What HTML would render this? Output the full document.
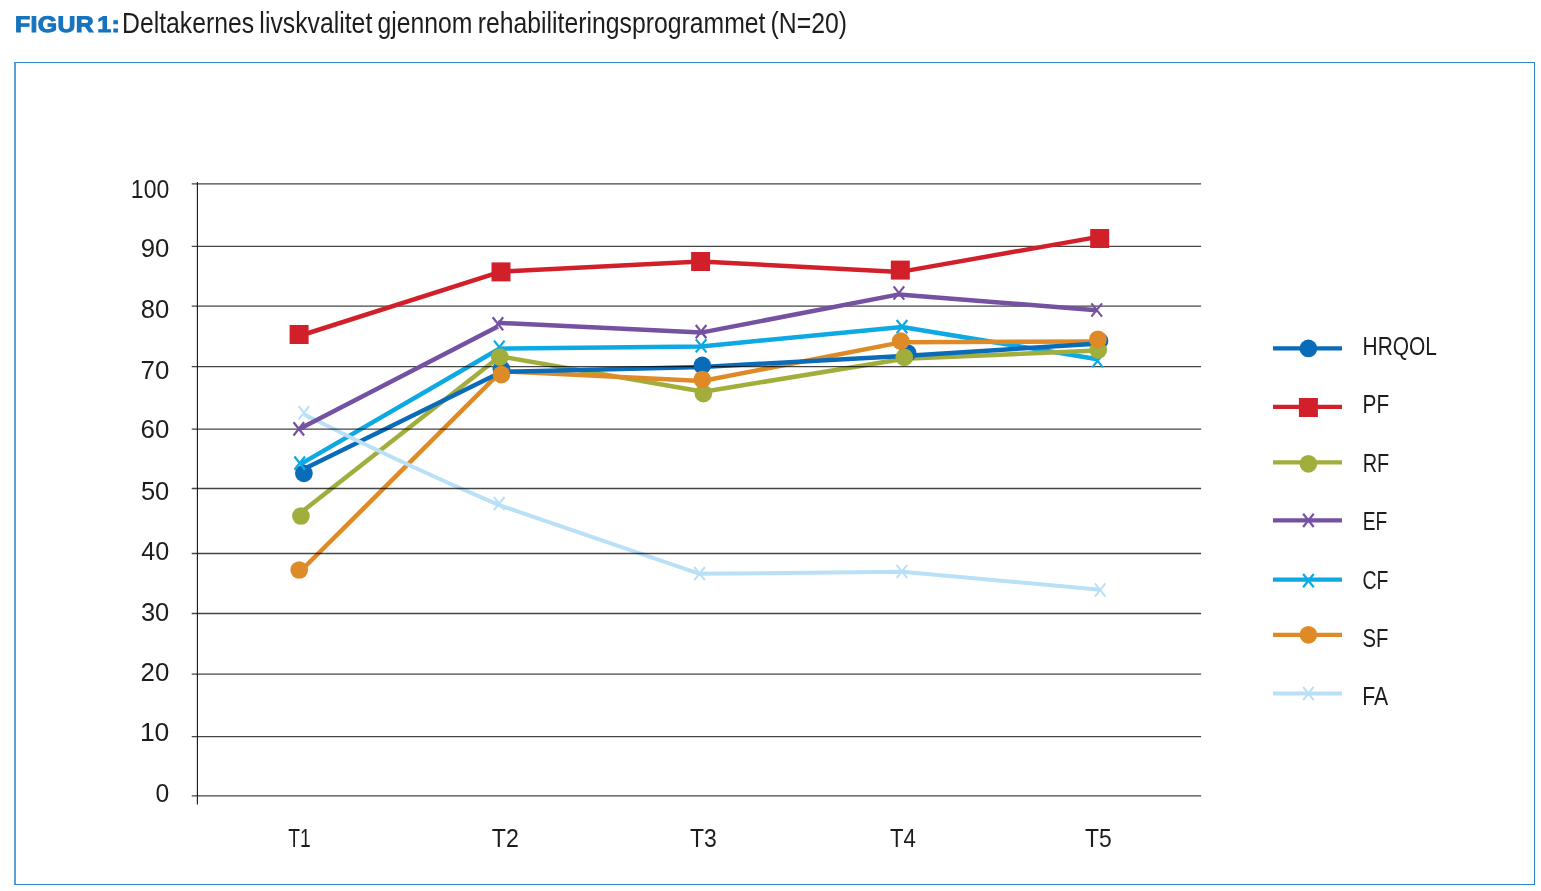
<!DOCTYPE html>
<html lang="no">
<head>
<meta charset="utf-8">
<title>Figur 1: Deltakernes livskvalitet gjennom rehabiliteringsprogrammet (N=20)</title>
<style>
html,body{margin:0;padding:0;background:#fff;}
body{width:1541px;height:891px;position:relative;overflow:hidden;font-family:"Liberation Sans",sans-serif;}
figure{margin:0;padding:0;}
figcaption{position:absolute;left:0;top:0;width:1541px;height:60px;white-space:nowrap;}
figcaption .lab{position:absolute;left:14.9px;top:9.4px;font-weight:bold;font-size:22.5px;text-rendering:geometricPrecision;line-height:32px;color:#1674be;
  display:inline-block;transform-origin:0 0;transform:scaleX(1.105);-webkit-text-stroke:1px #1674be;letter-spacing:0.3px;word-spacing:-3.5px;}
figcaption .ttl{position:absolute;left:122.4px;top:4.9px;font-size:28.8px;line-height:36px;color:#1d1d1b;
  display:inline-block;transform-origin:0 0;transform:scaleX(0.8604);word-spacing:-2px;}
.chart{position:absolute;left:0;top:0;width:1541px;height:891px;}
.frame{position:absolute;left:14px;top:62px;width:1521px;height:823px;box-sizing:border-box;border:1.5px solid #2f86c9;border-left:2px solid #5a9fd8;}
.chart svg{display:block;position:absolute;left:0;top:0;}
svg text{font-family:"Liberation Sans",sans-serif;fill:#1d1d1b;text-rendering:auto;}
</style>
</head>
<body>
<figure>
<figcaption><span class="lab">FIGUR 1:</span><span class="ttl">Deltakernes livskvalitet gjennom rehabiliteringsprogrammet (N=20)</span></figcaption>
<div class="chart">
<div class="frame"></div>
<svg width="1541" height="891" viewBox="0 0 1541 891">
<g fill="none" stroke-linejoin="round" stroke-linecap="butt">
<path d="M299.7 464.6L499.3 348.7L701.1 346.4L902.0 327.0L1097.6 359.2" stroke="#0ea9e3" stroke-width="4.5"/>
<path d="M300.9 512.6L499.8 356.4L703.4 391.8L904.3 358.7L1098.2 350.6" stroke="#a1ae3b" stroke-width="4.5"/>
<path d="M299.2 572.5L501.4 371.2L702.3 381.0L900.7 342.35L1097.9 341.5" stroke="#de8b27" stroke-width="4.5"/>
<path d="M303.9 469.0L501.4 371.9L702.3 366.9L907.6 355.8L1099.5 343.5" stroke="#0a6cb8" stroke-width="4.5"/>
<path d="M303.9 414.3Q401.55 463.7 499.2 505.1L699.6 573.8L901.9 571.7L1100.2 589.7" stroke="#b9e0f6" stroke-width="4.0"/>
</g>
<g class="fa-markers">
<path d="M298.6 406.2L309.2 419.4M309.2 406.2L298.6 419.4" stroke="#b9e0f6" stroke-width="2.0" fill="none"/>
<path d="M493.9 497.0L504.5 510.2M504.5 497.0L493.9 510.2" stroke="#b9e0f6" stroke-width="2.0" fill="none"/>
<path d="M694.3 567.0L704.9 580.2M704.9 567.0L694.3 580.2" stroke="#b9e0f6" stroke-width="2.0" fill="none"/>
<path d="M896.6 564.9L907.2 578.1M907.2 564.9L896.6 578.1" stroke="#b9e0f6" stroke-width="2.0" fill="none"/>
<path d="M1094.9 583.4L1105.5 596.6M1105.5 583.4L1094.9 596.6" stroke="#b9e0f6" stroke-width="2.0" fill="none"/>
</g>
<g stroke="#454544" stroke-width="1.3" style="mix-blend-mode:multiply">
<line x1="191.7" y1="183.8" x2="1201.1" y2="183.8"/>
<line x1="191.7" y1="246.4" x2="1201.1" y2="246.4"/>
<line x1="191.7" y1="306.1" x2="1201.1" y2="306.1"/>
<line x1="191.7" y1="366.7" x2="1201.1" y2="366.7"/>
<line x1="191.7" y1="429.1" x2="1201.1" y2="429.1"/>
<line x1="191.7" y1="488.5" x2="1201.1" y2="488.5"/>
<line x1="191.7" y1="553.5" x2="1201.1" y2="553.5"/>
<line x1="191.7" y1="613.5" x2="1201.1" y2="613.5"/>
<line x1="191.7" y1="674.1" x2="1201.1" y2="674.1"/>
<line x1="191.7" y1="736.6" x2="1201.1" y2="736.6"/>
<line x1="191.7" y1="795.9" x2="1201.1" y2="795.9"/>
<line x1="197.4" y1="182.1" x2="197.4" y2="804.6" stroke="#1d1d1b" stroke-width="1.15"/>
</g>
<g fill="none" stroke-linejoin="round" stroke-linecap="butt">
<path d="M299.1 336.0L501.0 271.7L700.6 261.5L900.3 271.9L1099.7 236.6" stroke="#d2202a" stroke-width="4.5"/>
<path d="M298.8 429.3L497.9 326.5M497.9 322.85L701.1 332.6L898.9 294.4L1096.7 310.2" stroke="#7451a1" stroke-width="4.5"/>
</g>
<g>
<circle cx="303.9" cy="473.3" r="8.85" fill="#0a6cb8"/>
<circle cx="501.4" cy="368.9" r="8.85" fill="#0a6cb8"/>
<circle cx="702.3" cy="365.4" r="8.85" fill="#0a6cb8"/>
<circle cx="907.6" cy="353.0" r="8.85" fill="#0a6cb8"/>
<circle cx="1099.5" cy="341.0" r="8.85" fill="#0a6cb8"/>
<rect x="289.6" y="325.0" width="19" height="19" fill="#d2202a"/>
<rect x="491.5" y="262.4" width="19" height="19" fill="#d2202a"/>
<rect x="691.1" y="252.0" width="19" height="19" fill="#d2202a"/>
<rect x="890.8" y="260.6" width="19" height="19" fill="#d2202a"/>
<rect x="1090.2" y="229.0" width="19" height="19" fill="#d2202a"/>
<path d="M294.4 456.5L305.0 469.7M305.0 456.5L294.4 469.7" stroke="#0ea9e3" stroke-width="2.2" fill="none"/>
<path d="M494.0 340.6L504.6 353.8M504.6 340.6L494.0 353.8" stroke="#0ea9e3" stroke-width="2.2" fill="none"/>
<path d="M695.8 339.2L706.4 352.4M706.4 339.2L695.8 352.4" stroke="#0ea9e3" stroke-width="2.2" fill="none"/>
<path d="M896.7 320.0L907.3 333.2M907.3 320.0L896.7 333.2" stroke="#0ea9e3" stroke-width="2.2" fill="none"/>
<path d="M1092.3 354.2L1102.9 367.4M1102.9 354.2L1092.3 367.4" stroke="#0ea9e3" stroke-width="2.2" fill="none"/>
<path d="M293.5 422.3L304.1 435.5M304.1 422.3L293.5 435.5" stroke="#7451a1" stroke-width="2.2" fill="none"/>
<path d="M492.6 317.2L503.2 330.4M503.2 317.2L492.6 330.4" stroke="#7451a1" stroke-width="2.2" fill="none"/>
<path d="M695.8 325.0L706.4 338.2M706.4 325.0L695.8 338.2" stroke="#7451a1" stroke-width="2.2" fill="none"/>
<path d="M893.6 286.4L904.2 299.6M904.2 286.4L893.6 299.6" stroke="#7451a1" stroke-width="2.2" fill="none"/>
<path d="M1091.4 303.4L1102.0 316.6M1102.0 303.4L1091.4 316.6" stroke="#7451a1" stroke-width="2.2" fill="none"/>
<circle cx="300.9" cy="516.0" r="8.85" fill="#a1ae3b"/>
<circle cx="499.8" cy="357.1" r="8.85" fill="#a1ae3b"/>
<circle cx="703.4" cy="393.6" r="8.85" fill="#a1ae3b"/>
<circle cx="904.3" cy="357.3" r="8.85" fill="#a1ae3b"/>
<circle cx="1098.2" cy="350.0" r="8.85" fill="#a1ae3b"/>
<circle cx="299.2" cy="570.0" r="8.85" fill="#de8b27"/>
<circle cx="501.4" cy="374.6" r="8.85" fill="#de8b27"/>
<circle cx="702.3" cy="379.5" r="8.85" fill="#de8b27"/>
<circle cx="900.7" cy="341.0" r="8.85" fill="#de8b27"/>
<circle cx="1097.9" cy="339.3" r="8.85" fill="#de8b27"/>
</g>
<g class="ylab">
<text transform="translate(130.85 197.7) scale(0.9049 1)" font-size="25.4">100</text>
<text transform="translate(140.69 257.4) scale(1.0127 1)" font-size="25.4">90</text>
<text transform="translate(140.79 318.4) scale(1.0093 1)" font-size="25.4">80</text>
<text transform="translate(140.58 378.5) scale(1.017 1)" font-size="25.4">70</text>
<text transform="translate(140.59 438.4) scale(1.0165 1)" font-size="25.4">60</text>
<text transform="translate(140.88 499.9) scale(1.006 1)" font-size="25.4">50</text>
<text transform="translate(141.32 559.9) scale(0.9896 1)" font-size="25.4">40</text>
<text transform="translate(140.93 620.8) scale(1.0041 1)" font-size="25.4">30</text>
<text transform="translate(140.6 681.1) scale(1.0161 1)" font-size="25.4">20</text>
<text transform="translate(139.88 741.0) scale(1.0424 1)" font-size="25.4">10</text>
<text transform="translate(155.54 801.8) scale(0.9718 1)" font-size="25.4">0</text>
</g>
<g class="xlab">
<text transform="translate(288.27 846.7) scale(0.735 1)" font-size="26.2">T1</text>
<text transform="translate(491.78 846.7) scale(0.8825 1)" font-size="26.2">T2</text>
<text transform="translate(689.88 846.7) scale(0.8774 1)" font-size="26.2">T3</text>
<text transform="translate(890.0 846.7) scale(0.8453 1)" font-size="26.2">T4</text>
<text transform="translate(1084.88 846.7) scale(0.8758 1)" font-size="26.2">T5</text>
</g>
<g font-size="26.2">
<line x1="1273" y1="348.4" x2="1342" y2="348.4" stroke="#0a6cb8" stroke-width="4.3"/>
<circle cx="1308.4" cy="348.4" r="8.85" fill="#0a6cb8"/>
<text transform="translate(1362.58 354.8) scale(0.7987 1)" font-size="26.2">HRQOL</text>
<line x1="1273" y1="406.9" x2="1342" y2="406.9" stroke="#d2202a" stroke-width="4.3"/>
<rect x="1298.9" y="398.0" width="19" height="19" fill="#d2202a"/>
<text transform="translate(1362.59 413.4) scale(0.7959 1)" font-size="26.2">PF</text>
<line x1="1273" y1="462.4" x2="1342" y2="462.4" stroke="#a1ae3b" stroke-width="4.3"/>
<circle cx="1308.4" cy="463.8" r="8.85" fill="#a1ae3b"/>
<text transform="translate(1362.67 471.7) scale(0.7596 1)" font-size="26.2">RF</text>
<line x1="1273" y1="520.4" x2="1342" y2="520.4" stroke="#7451a1" stroke-width="4.3"/>
<path d="M1303.1 513.8L1313.7 527.0M1313.7 513.8L1303.1 527.0" stroke="#7451a1" stroke-width="2.2" fill="none"/>
<text transform="translate(1362.72 529.6) scale(0.7331 1)" font-size="26.2">EF</text>
<line x1="1273" y1="579.6" x2="1342" y2="579.6" stroke="#0ea9e3" stroke-width="4.3"/>
<path d="M1303.1 574.0L1313.7 587.2M1313.7 574.0L1303.1 587.2" stroke="#0ea9e3" stroke-width="2.2" fill="none"/>
<text transform="translate(1362.51 588.8) scale(0.7436 1)" font-size="26.2">CF</text>
<line x1="1273" y1="634.8" x2="1342" y2="634.8" stroke="#de8b27" stroke-width="4.3"/>
<circle cx="1308.4" cy="634.8" r="8.85" fill="#de8b27"/>
<text transform="translate(1362.58 646.7) scale(0.7746 1)" font-size="26.2">SF</text>
<line x1="1273" y1="693.5" x2="1342" y2="693.5" stroke="#b9e0f6" stroke-width="4.1"/>
<path d="M1303.1 686.9L1313.7 700.1M1313.7 686.9L1303.1 700.1" stroke="#b9e0f6" stroke-width="2.0" fill="none"/>
<text transform="translate(1362.26 704.6) scale(0.8089 1)" font-size="26.2">FA</text>
</g>
</svg>
</div>
</figure>
</body>
</html>
